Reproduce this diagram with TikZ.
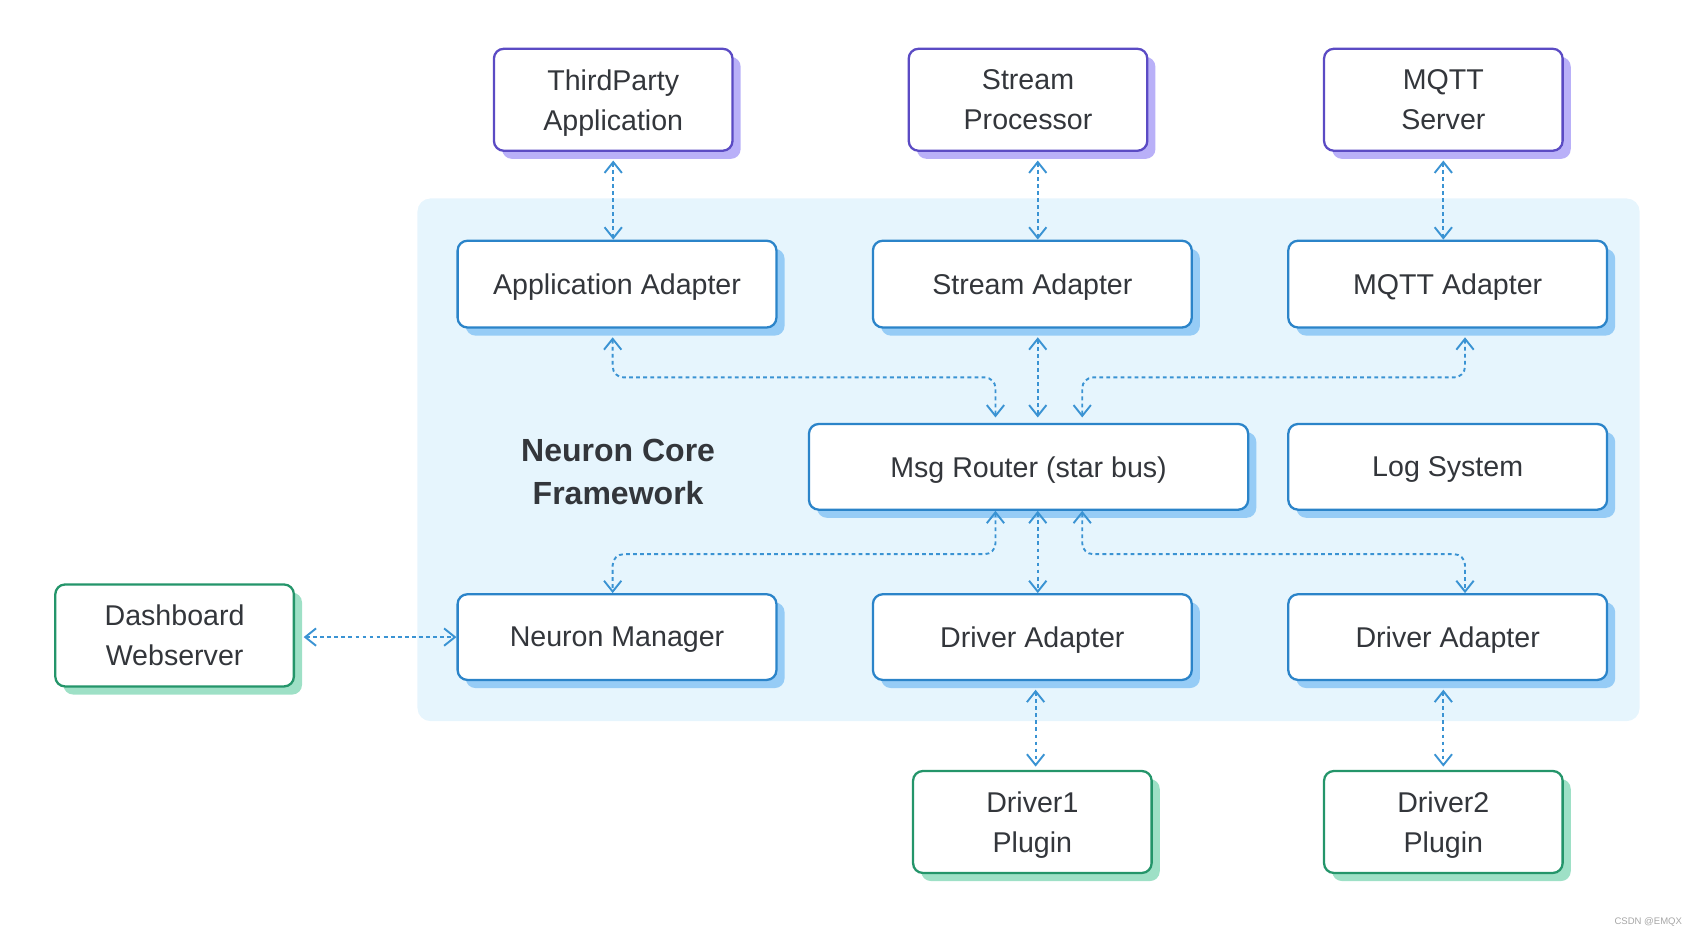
\documentclass[tikz,border=0pt]{standalone}
\usepackage{fontspec}
\setmainfont{Liberation Sans}
\usepackage{xcolor}
\usetikzlibrary{arrows.meta, calc, shadows}

\definecolor{coreblue}{HTML}{2B84C9}
\definecolor{coreshadow}{HTML}{96CCF6}
\definecolor{corebg}{HTML}{E6F5FD}
\definecolor{extpurple}{HTML}{5B4BC4}
\definecolor{extshadow}{HTML}{B9B0F8}
\definecolor{plugreen}{HTML}{24956A}
\definecolor{plugshadow}{HTML}{9EE0C6}
\definecolor{linkblue}{HTML}{3A93D3}
\definecolor{txtgray}{HTML}{33363B}

\begin{document}
\begin{tikzpicture}[
    box/.style={draw, fill=white, rounded corners=0.09cm, line width=0.6pt,
        align=center, text=txtgray, inner sep=0pt, text depth=0pt,
        font=\fontsize{7.5}{10.5}\selectfont},
    adapter/.style={box, draw=coreblue, minimum width=2.94cm, minimum height=0.80cm,
        drop shadow={shadow xshift=0.075cm, shadow yshift=-0.075cm, fill=coreshadow, opacity=1}},
    extbox/.style={box, draw=extpurple, minimum width=2.20cm, minimum height=0.94cm,
        drop shadow={shadow xshift=0.075cm, shadow yshift=-0.075cm, fill=extshadow, opacity=1}},
    plugbox/.style={box, draw=plugreen, minimum width=2.20cm, minimum height=0.94cm,
        drop shadow={shadow xshift=0.075cm, shadow yshift=-0.075cm, fill=plugshadow, opacity=1}},
    link/.style={draw=linkblue, line width=0.5pt, dash pattern=on 0.035cm off 0.03cm,
        rounded corners=0.1cm,
        {Straight Barb[length=0.10cm,width=0.16cm]}-{Straight Barb[length=0.10cm,width=0.16cm]}}
]
        % Area utile
        \useasboundingbox (0,0) rectangle (15.64,8.65);
        
        % Sfondo Neuron Core
        \fill[corebg, rounded corners=0.12cm] (3.85,2.00) rectangle (15.12,6.82);
        \node[font=\bfseries\fontsize{8.4}{11.4}\selectfont, text=txtgray, align=center]
            (core) at (5.70,4.30) {Neuron Core\\Framework};
        
        % Servizi esterni
        \node[extbox] (tpa) at (5.655,7.73) {ThirdParty\\Application};
        \node[extbox] (sproc) at (9.48,7.73) {Stream\\Processor};
        \node[extbox] (mqtts) at (13.31,7.73) {MQTT\\Server};
        
        % Adapter superiori
        \node[adapter] (appad) at (5.69,6.03) {Application Adapter};
        \node[adapter] (strad) at (9.52,6.03) {Stream Adapter};
        \node[adapter] (mqttad) at (13.35,6.03) {MQTT Adapter};
        
        % Router e log
        \node[adapter, minimum width=4.05cm, minimum height=0.79cm] (router) at (9.485,4.345) {Msg Router (star bus)};
        \node[adapter, minimum height=0.79cm] (logsys) at (13.35,4.345) {Log System};
        
        % Adapter inferiori
        \node[adapter, minimum height=0.79cm] (manager) at (5.69,2.775) {Neuron Manager};
        \node[adapter, minimum height=0.79cm] (drvad1) at (9.52,2.775) {Driver Adapter};
        \node[adapter, minimum height=0.79cm] (drvad2) at (13.35,2.775) {Driver Adapter};
        
        % Dashboard e plugin
        \node[plugbox] (dash) at (1.61,2.79) {Dashboard\\Webserver};
        \node[plugbox] (plug1) at (9.52,1.07) {Driver1\\Plugin};
        \node[plugbox] (plug2) at (13.31,1.07) {Driver2\\Plugin};
        
        % Collegamenti esterni
        \draw[link, shorten <=0.08cm] (tpa.south) -- (tpa.south |- appad.north);
        \draw[link, shorten <=0.08cm] ([xshift=0.05cm]strad.north |- sproc.south) -- ([xshift=0.05cm]strad.north);
        \draw[link, shorten <=0.08cm] (mqtts.south) -- (mqtts.south |- mqttad.north);
        
        % Collegamenti verso il router
        \draw[link, shorten <=0.08cm, shorten >=0.05cm] ([xshift=-0.04cm]appad.south) -- ++(0,-0.45) -| ([xshift=-0.305cm]router.north);
        \draw[link, shorten <=0.08cm, shorten >=0.05cm] ([xshift=0.05cm]strad.south) -- ([xshift=0.05cm]strad.south |- router.north);
        \draw[link, shorten <=0.08cm, shorten >=0.05cm] ([xshift=0.16cm]mqttad.south) -- ++(0,-0.45) -| ([xshift=0.495cm]router.north);
        
        % Collegamenti dal router
        \draw[link] ([xshift=-0.305cm]router.south) -- ++(0,-0.40) -| ([xshift=-0.04cm]manager.north);
        \draw[link] ([xshift=0.05cm]drvad1.north |- router.south) -- ([xshift=0.05cm]drvad1.north);
        \draw[link] ([xshift=0.495cm]router.south) -- ++(0,-0.40) -| ([xshift=0.16cm]drvad2.north);
        
        % Dashboard e driver
        \draw[link, shorten <=0.08cm] (manager.west -| dash.east) -- (manager.west);
        \draw[link, shorten <=0.08cm, shorten >=0.03cm] ([xshift=0.03cm]drvad1.south) -- ([xshift=0.03cm]drvad1.south |- plug1.north);
        \draw[link, shorten <=0.08cm, shorten >=0.03cm] (plug2.north |- drvad2.south) -- (plug2.north);
        
        % Filigrana
        \node[font=\fontsize{2.5}{3}\selectfont, text=gray!70] (mark) at (15.20,0.15) {CSDN @EMQX};
\end{tikzpicture}
\end{document}
